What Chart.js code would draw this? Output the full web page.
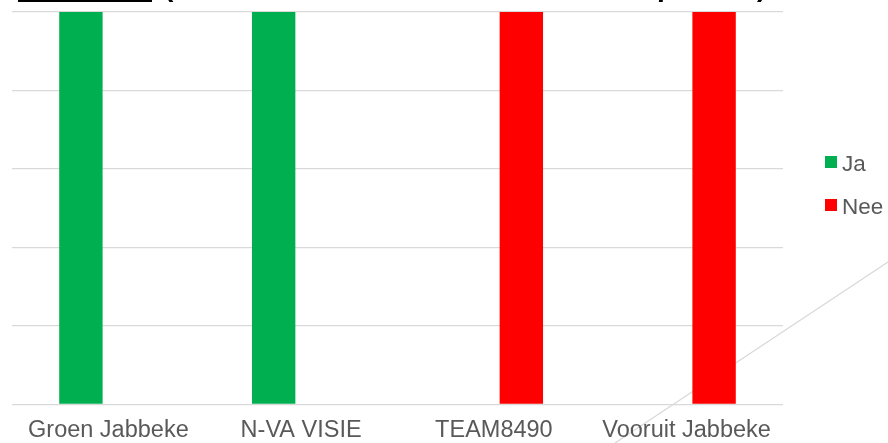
<!DOCTYPE html>
<html>
<head>
<meta charset="utf-8">
<script src="https://cdn.jsdelivr.net/npm/chart.js@4"></script>
<style>
  html, body { margin: 0; padding: 0; background: #ffffff; }
  #wrap { width: 888px; height: 443px; position: relative; }
</style>
</head>
<body>
<div id="wrap"><canvas id="c" width="888" height="443"></canvas></div>
<script>
// data
const partijen = ['Groen Jabbeke', 'N-VA VISIE', 'TEAM8490', 'Vooruit Jabbeke'];
const ja = [1, 1, 0, 0];
const nee = [0, 0, 1, 1];
const yTicks = [0, 0.2, 0.4, 0.6, 0.8, 1];

const fontFam = '"Liberation Sans", Arial, sans-serif';

// stray connector line, sits behind the bars and labels
const connector = {
  id: 'connector',
  beforeDraw(chart) {
    const ctx = chart.ctx;
    ctx.save();
    ctx.strokeStyle = '#d9d9d9';
    ctx.lineWidth = 1.3;
    ctx.beginPath();
    ctx.moveTo(615, 443);
    ctx.lineTo(888, 262);
    ctx.stroke();
    ctx.restore();
  }
};

// legend on the right + cut-off title
const extras = {
  id: 'extras',
  afterDraw(chart) {
    const ctx = chart.ctx;
    ctx.save();

    // title, mostly outside the picture
    ctx.fillStyle = '#000000';
    ctx.fillRect(18, 0, 134, 2);
    ctx.font = 'bold 28px ' + fontFam;
    ctx.textBaseline = 'alphabetic';
    ctx.textAlign = 'left';
    ctx.fillText('(', 164, -4);
    ctx.fillText('p', 657, -4);
    ctx.fillText(')', 757, -4);

    // legend
    ctx.font = '22.5px ' + fontFam;
    chart.data.datasets.forEach((ds, i) => {
      const y = 156 + i * 43;
      ctx.fillStyle = ds.backgroundColor;
      ctx.fillRect(825, y, 12, 12);
      ctx.fillStyle = '#595959';
      ctx.fillText(ds.label, 842, y + 15);
    });
    ctx.restore();
  }
};

new Chart(document.getElementById('c').getContext('2d'), {
  type: 'bar',
  data: {
    labels: partijen,
    datasets: [
      { label: 'Ja', data: ja, backgroundColor: '#00b050', barPercentage: 0.79, categoryPercentage: 0.57 },
      { label: 'Nee', data: nee, backgroundColor: '#ff0000', barPercentage: 0.79, categoryPercentage: 0.57 }
    ]
  },
  options: {
    responsive: false,
    maintainAspectRatio: false,
    animation: false,
    layout: { padding: { left: 12, right: 105, top: 12, bottom: 0 } },
    plugins: {
      legend: { display: false },
      tooltip: { enabled: false }
    },
    scales: {
      x: {
        grid: { display: false },
        border: { display: false },
        ticks: {
          color: '#595959',
          font: { family: fontFam, size: 23.5 },
          padding: 4,
          maxRotation: 0,
          autoSkip: false
        },
        afterFit(s) { s.height = 38.5; }
      },
      y: {
        min: 0,
        max: 1,
        afterBuildTicks(s) { s.ticks = yTicks.map(v => ({ value: v })); },
        grid: { color: '#d9d9d9', lineWidth: 1.3, drawTicks: false },
        border: { display: false },
        ticks: { display: false },
        afterFit(s) { s.width = 0; }
      }
    }
  },
  plugins: [connector, extras]
});
</script>
</body>
</html>
